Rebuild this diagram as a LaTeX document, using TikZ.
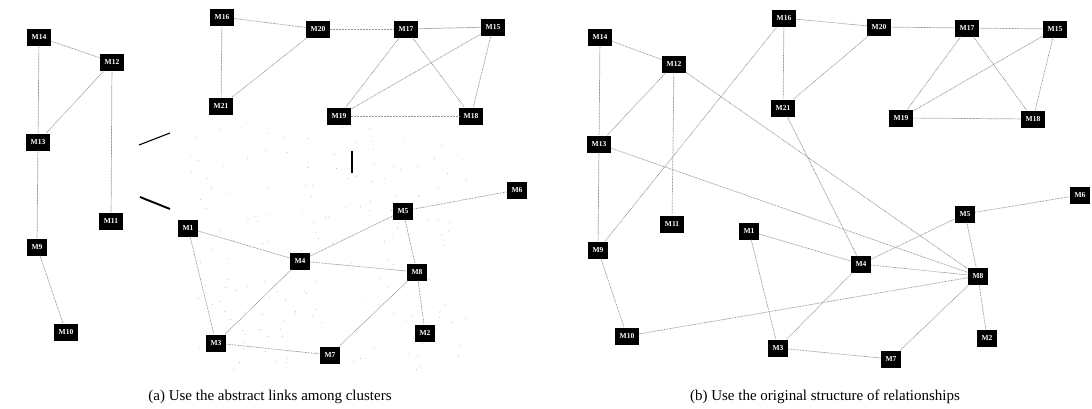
\documentclass[tikz,border=0pt]{standalone}
\usepackage{fontspec}
\setmainfont{Liberation Serif}
\begin{document}
\begin{tikzpicture}[x=1pt,y=-1pt,
  mnode/.style={fill=black, text=white, font=\fontsize{7.5}{8}\selectfont\bfseries, inner xsep=4.5pt, inner ysep=0pt, minimum height=17pt},
  link/.style={draw=gray!85, line width=0.7pt, dash pattern=on 0.8pt off 0.7pt},
  abst/.style={draw=black, line width=1.6pt},
  captext/.style={font=\fontsize{15}{18}\selectfont, anchor=base}]
\useasboundingbox (0,0) rectangle (1092,408);

% scattered scan dots in panel (a)
\pgfmathsetseed{7}
\foreach \i in {1,...,170}{
  \pgfmathsetmacro\dx{190+rnd*280}
  \pgfmathsetmacro\dy{125+rnd*245}
  \fill[gray!60] (\dx,\dy) circle (0.5pt);
}

% ---------- panel (a) ----------
\node[mnode] (a14) at (39,37) {M14};
\node[mnode] (a12) at (112,62) {M12};
\node[mnode] (a13) at (38,142) {M13};
\node[mnode] (a11) at (111,221) {M11};
\node[mnode] (a9) at (37,247) {M9};
\node[mnode] (a10) at (66,332) {M10};
\node[mnode] (a16) at (222,17) {M16};
\node[mnode] (a20) at (318,29) {M20};
\node[mnode] (a21) at (221,106) {M21};
\node[mnode] (a17) at (406,29) {M17};
\node[mnode] (a15) at (493,27) {M15};
\node[mnode] (a19) at (339,116) {M19};
\node[mnode] (a18) at (471,116) {M18};
\node[mnode] (a1) at (188,228) {M1};
\node[mnode] (a4) at (300,261) {M4};
\node[mnode] (a5) at (403,211) {M5};
\node[mnode] (a6) at (517,190) {M6};
\node[mnode] (a8) at (417,272) {M8};
\node[mnode] (a3) at (216,343) {M3};
\node[mnode] (a7) at (330,355) {M7};
\node[mnode] (a2) at (425,333) {M2};

\foreach \u/\v in {a14/a12,a14/a13,a12/a13,a12/a11,a13/a9,a9/a10,
  a16/a20,a16/a21,a20/a21,a20/a17,a17/a15,a17/a19,a17/a18,a15/a19,a15/a18,a19/a18,
  a1/a4,a1/a3,a4/a3,a4/a5,a4/a8,a5/a6,a5/a8,a8/a7,a8/a2,a3/a7}
  \draw[link] (\u) -- (\v);

% abstract links among clusters
\coordinate (l1s) at (139,145); \coordinate (l1e) at (170,133);
\coordinate (l2s) at (140,197); \coordinate (l2e) at (170,209);
\coordinate (l3s) at (352,151); \coordinate (l3e) at (352,173);
\draw[abst, line width=1.1pt] (l1s) -- (l1e);
\draw[abst, line width=1.9pt] (l2s) -- (l2e);
\draw[abst, line width=1.4pt] (l3s) -- (l3e);

% ---------- panel (b) ----------
\node[mnode] (b14) at (600,37) {M14};
\node[mnode] (b12) at (674,64) {M12};
\node[mnode] (b16) at (784,18) {M16};
\node[mnode] (b21) at (783,108) {M21};
\node[mnode] (b13) at (599,144) {M13};
\node[mnode] (b20) at (879,27) {M20};
\node[mnode] (b17) at (967,28) {M17};
\node[mnode] (b15) at (1055,29) {M15};
\node[mnode] (b19) at (901,118) {M19};
\node[mnode] (b18) at (1033,119) {M18};
\node[mnode] (b11) at (672,224) {M11};
\node[mnode] (b1) at (749,231) {M1};
\node[mnode] (b9) at (598,250) {M9};
\node[mnode] (b10) at (627,336) {M10};
\node[mnode] (b3) at (778,348) {M3};
\node[mnode] (b4) at (861,264) {M4};
\node[mnode] (b5) at (965,214) {M5};
\node[mnode] (b6) at (1080,195) {M6};
\node[mnode] (b8) at (978,276) {M8};
\node[mnode] (b2) at (987,338) {M2};
\node[mnode] (b7) at (891,359) {M7};

\foreach \u/\v in {b14/b12,b14/b13,b12/b13,b12/b11,b13/b9,b9/b10,
  b16/b20,b16/b21,b20/b21,b16/b9,b12/b8,b13/b8,b21/b4,b10/b8,
  b20/b17,b17/b15,b17/b19,b17/b18,b15/b19,b15/b18,b19/b18,
  b1/b4,b1/b3,b3/b4,b4/b5,b4/b8,b5/b6,b5/b8,b8/b7,b8/b2,b3/b7}
  \draw[link] (\u) -- (\v);

% captions
\node[captext] (capa) at (270,400) {(a) Use the abstract links among clusters};
\node[captext] (capb) at (825,400) {(b) Use the original structure of relationships};
\end{tikzpicture}
\end{document}
